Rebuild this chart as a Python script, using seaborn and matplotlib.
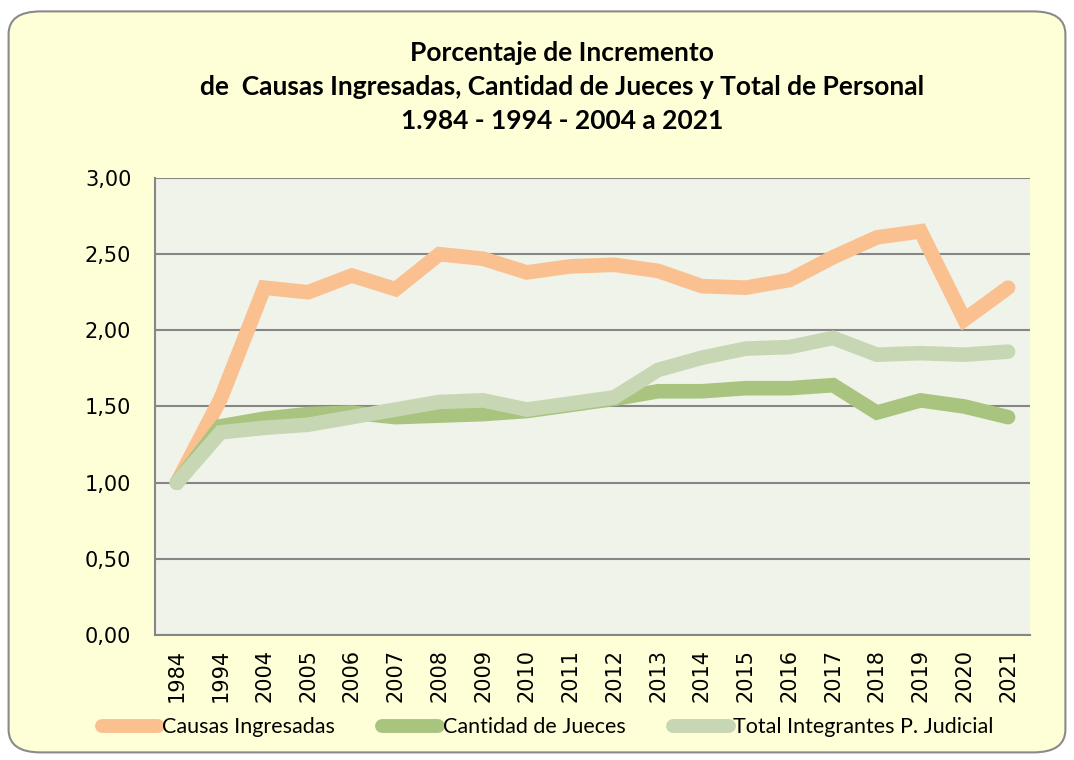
import pandas as pd
import matplotlib
matplotlib.use('Agg')
import matplotlib.pyplot as plt
import seaborn as sns
from matplotlib.patches import FancyBboxPatch
from matplotlib.lines import Line2D

# Data
years = ['1984', '1994', '2004', '2005', '2006', '2007', '2008', '2009', '2010', '2011',
         '2012', '2013', '2014', '2015', '2016', '2017', '2018', '2019', '2020', '2021']
causas = [1.00, 1.55, 2.28, 2.25, 2.36, 2.27, 2.50, 2.47, 2.38, 2.42,
          2.43, 2.39, 2.29, 2.28, 2.33, 2.48, 2.61, 2.65, 2.07, 2.28]
jueces = [1.00, 1.37, 1.42, 1.45, 1.46, 1.43, 1.44, 1.45, 1.47, 1.51,
          1.55, 1.60, 1.60, 1.62, 1.62, 1.64, 1.46, 1.54, 1.50, 1.43]
total = [1.00, 1.33, 1.36, 1.38, 1.43, 1.48, 1.53, 1.54, 1.48, 1.52,
         1.56, 1.74, 1.82, 1.88, 1.89, 1.95, 1.84, 1.85, 1.84, 1.86]
series = ['Causas Ingresadas', 'Cantidad de Jueces', 'Total Integrantes P. Judicial']
colors = ['#FAC090', '#A9C47F', '#C8D7B3']

df = pd.DataFrame({'year': years * 3,
                   'value': causas + jueces + total,
                   'serie': [series[0]] * 20 + [series[1]] * 20 + [series[2]] * 20})

sns.set_style('white')
plt.rcParams['font.family'] = ['Lato', 'DejaVu Sans']
plt.rcParams['text.color'] = 'black'
plt.rcParams['xtick.color'] = 'black'
plt.rcParams['ytick.color'] = 'black'

fig = plt.figure(figsize=(10.74, 7.6), dpi=100)
fig.patch.set_facecolor('white')

# rounded yellow chart area
box = FancyBboxPatch((0.008, 0.01), 0.984, 0.975, transform=fig.transFigure,
                     boxstyle='round,pad=0,rounding_size=0.03',
                     facecolor='#FFFFD7', edgecolor='#8A8A8A', linewidth=1.5, zorder=-10)
fig.patches.append(box)

ax = fig.add_axes([0.1443, 0.1645, 0.8147, 0.6013])
ax.set_facecolor('#EFF3E9')

x_pos = {y: i for i, y in enumerate(years)}
df['x'] = df['year'].map(x_pos)

for s, c in zip(series, colors):
    d = df[df['serie'] == s]
    sns.lineplot(data=d, x='x', y='value', ax=ax, color=c, linewidth=10.5,
                 solid_capstyle='round', solid_joinstyle='miter', legend=False)

ax.set_xlim(-0.5, len(years) - 0.5)
ax.set_ylim(0, 3.0)
ax.set_yticks([0, 0.5, 1.0, 1.5, 2.0, 2.5, 3.0])
ax.set_yticklabels([f'{v:.2f}'.replace('.', ',') for v in ax.get_yticks()],
                   fontsize=15, family='DejaVu Sans')
ax.yaxis.grid(True, color='#868686', linewidth=1.5)
ax.set_axisbelow(True)

ax.set_xticks([i - 0.5 for i in range(len(years) + 1)])
ax.set_xticklabels([])
ax.set_xticks(range(len(years)), minor=True)
ax.set_xticklabels(years, minor=True, rotation=90, fontsize=15, family='DejaVu Sans')
ax.tick_params(axis='x', which='major', length=7, color='#868686', width=1.2, direction='out')
ax.tick_params(axis='x', which='minor', length=0, pad=10)
ax.tick_params(axis='y', length=6, color='#868686', width=1.2, direction='out', pad=11)
ax.set_xlabel('')
ax.set_ylabel('')

for side in ['top', 'right']:
    ax.spines[side].set_visible(False)
for side in ['left', 'bottom']:
    ax.spines[side].set_color('#868686')
    ax.spines[side].set_linewidth(1.5)

fig.text(0.523, 0.885, 'Porcentaje de Incremento\n'
         'de  Causas Ingresadas, Cantidad de Jueces y Total de Personal\n'
         '1.984 - 1994 - 2004 a 2021',
         ha='center', va='center', fontsize=19, fontweight='bold', linespacing=1.5)

handles = [Line2D([0], [0], color=c, linewidth=10, solid_capstyle='round') for c in colors]
fig.legend(handles, series, loc='center', bbox_to_anchor=(0.51, 0.043), ncol=3,
           frameon=False, fontsize=15.5, handlelength=2.6, handletextpad=0.2,
           columnspacing=2.2)

fig.savefig('out.png', dpi=100, facecolor=fig.get_facecolor())
